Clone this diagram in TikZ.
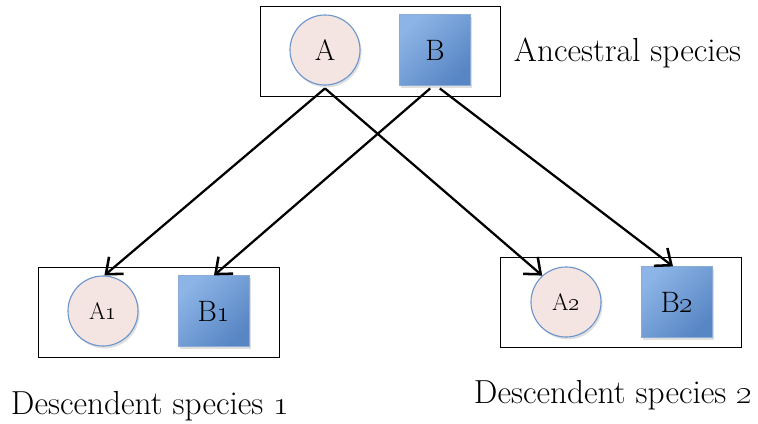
\documentclass[tikz,border=0pt]{standalone}
\usepackage{xcolor}
\usetikzlibrary{arrows.meta,shadows}

\definecolor{circfill}{RGB}{244,228,226}
\definecolor{circline}{RGB}{108,150,204}
\definecolor{sqlight}{RGB}{140,180,230}
\definecolor{sqdark}{RGB}{88,134,196}

\tikzset{
    species/.style={circle,draw=circline,fill=circfill,line width=0.8pt,minimum size=1.75cm,inner sep=0pt,drop shadow={opacity=0.25,shadow xshift=0.4mm,shadow yshift=-0.6mm}},
    speciesbox/.style={rectangle,draw=circline!80,left color=sqlight,right color=sqdark,shading angle=45,line width=0.3pt,minimum size=1.77cm,inner sep=0pt,drop shadow={opacity=0.25,shadow xshift=0.4mm,shadow yshift=-0.6mm}},
    group/.style={draw,line width=0.7pt},
    descent/.style={line width=1.6pt,-{Straight Barb[length=3.4mm,width=5.6mm,line width=1.8pt]}},
    caption/.style={anchor=west,font=\fontsize{23.7}{28}\selectfont}
}

\begin{document}
\begin{tikzpicture}[x=0.025cm,y=-0.025cm]
    \useasboundingbox (0,0) rectangle (758,423);

    % draw the boxes round each group
    \draw[group] (260,6) rectangle (500,96);
    \draw[group] (38,267) rectangle (279,357);
    \draw[group] (500,257) rectangle (741,347);

    % ancestral species
    \node[species,font=\fontsize{21}{25}\selectfont] (A) at (325,50) {A};
    \node[speciesbox,font=\fontsize{21}{25}\selectfont] (B) at (435,50) {B};
    \node[caption] (ancestral) at (509,53) {Ancestral species};

    % descendent species 1
    \node[species,font=\fontsize{17}{20}\selectfont] (A1) at (103,311) {A\oldstylenums{1}};
    \node[speciesbox,font=\fontsize{21}{25}\selectfont] (B1) at (214,311) {B\oldstylenums{1}};
    \node[caption] (desc1) at (6,406) {Descendent species \oldstylenums{1}};

    % descendent species 2
    \node[species,font=\fontsize{17}{20}\selectfont] (A2) at (566,302) {A\oldstylenums{2}};
    \node[speciesbox,font=\fontsize{21}{25}\selectfont] (B2) at (677,302) {B\oldstylenums{2}};
    \node[caption] (desc2) at (469,395) {Descendent species \oldstylenums{2}};

    % draw the arrows of descent
    \draw[descent] ([yshift=-2pt]A.south) -- ([xshift=1pt]A1.north);
    \draw[descent] ([yshift=-2pt]A.south) -- (A2.132);
    \draw[descent] ([xshift=-0.12cm,yshift=-2pt]B.south) -- (B1.north);
    \draw[descent] ([xshift=0.12cm,yshift=-2pt]B.south) -- ([xshift=-0.1cm]B2.north);
\end{tikzpicture}
\end{document}
